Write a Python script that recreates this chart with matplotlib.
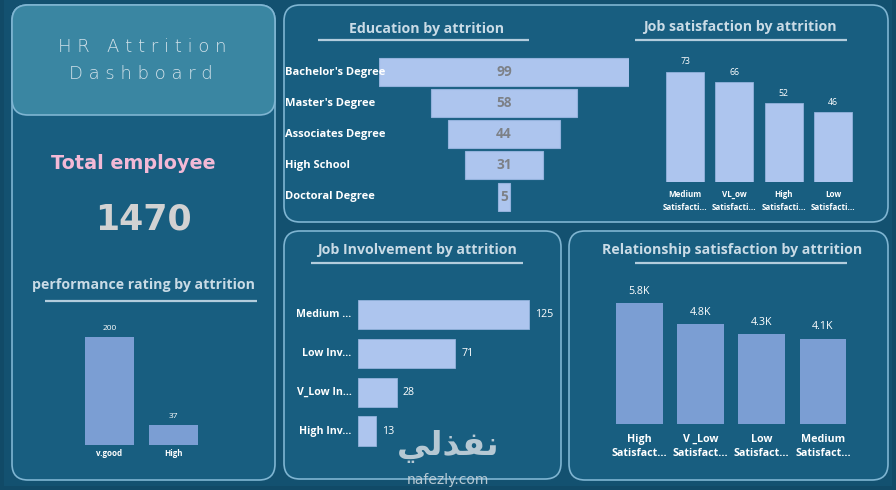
import matplotlib
matplotlib.use('Agg')
import matplotlib.pyplot as plt
from matplotlib.patches import FancyBboxPatch
from matplotlib import transforms

edu_labels = ["Bachelor's Degree", "Master's Degree", "Associates Degree", "High School", "Doctoral Degree"]
edu_values = [99, 58, 44, 31, 5]

jobsat_labels = ["Medium\nSatisfacti...", "VL_ow\nSatisfacti...", "High\nSatisfacti...", "Low\nSatisfacti..."]
jobsat_values = [73, 66, 52, 46]

perf_labels = ["v.good", "High"]
perf_values = [200, 37]

inv_labels = ["Medium ...", "Low Inv...", "V_Low In...", "High Inv..."]
inv_values = [125, 71, 28, 13]

rel_labels = ["High\nSatisfact...", "V _Low\nSatisfact...", "Low\nSatisfact...", "Medium\nSatisfact..."]
rel_values = [5.8, 4.8, 4.3, 4.1]  # thousands

total_employee = 1470

# colours
OUTER = '#114a67'
PANEL = '#185e80'
HEAD = '#3a86a2'
EDGE = '#7fb5d2'
TITLE_C = '#c9dbe6'
LIGHT_BAR = '#adc5ee'
MID_BAR = '#7b9ed3'
FONT = 'Open Sans'

W, H = 896, 490
fig = plt.figure(figsize=(W / 100, H / 100), dpi=100)
fig.patch.set_facecolor(OUTER)

# full-figure axes in pixel units for the frames and headings
bg = fig.add_axes([0, 0, 1, 1])
bg.set_xlim(0, W)
bg.set_ylim(H, 0)
bg.axis('off')


def panel(x0, y0, x1, y1, fc=PANEL, r=16):
    bg.add_patch(FancyBboxPatch((x0, y0), x1 - x0, y1 - y0,
                                boxstyle=f"round,pad=0,rounding_size={r}",
                                fc=fc, ec=EDGE, lw=1.2))


def heading(text, cx, cy, ux0, ux1, uy, size=10.2):
    bg.text(cx, cy, text, ha='center', va='center', color=TITLE_C,
            fontsize=size, fontweight='bold', family=FONT)
    bg.plot([ux0, ux1], [uy, uy], color='#b3cddd', lw=1.6, solid_capstyle='butt')


def sub(x0, y0, x1, y1):
    ax = fig.add_axes([x0 / W, 1 - y1 / H, (x1 - x0) / W, (y1 - y0) / H])
    ax.set_facecolor('none')
    ax.axis('off')
    return ax


bg.add_patch(plt.Rectangle((4, 0), W - 8, H - 4, fc='#135170', ec='none'))

panel(12, 5, 275, 480)
panel(12, 5, 275, 115, fc=HEAD)
panel(284, 5, 888, 222)
panel(284, 231, 561, 479)
panel(569, 231, 888, 480)

# left column: title and KPI
bg.text(142, 47, ' '.join('HR Attrition'), ha='center', va='center',
        color='#d3e2ea', fontsize=13, family='DejaVu Sans', fontweight='light')
bg.text(141, 74, ' '.join('Dashboard'), ha='center', va='center',
        color='#d3e2ea', fontsize=13, family='DejaVu Sans', fontweight='light')
bg.text(133, 163, 'Total employee', ha='center', va='center',
        color='#f3b9d6', fontsize=13.8, fontweight='bold', family='DejaVu Sans')
bg.text(143, 219, str(total_employee), ha='center', va='center',
        color='#d2d2d2', fontsize=25, fontweight='bold', family='DejaVu Sans')

# performance rating
heading('performance rating by attrition', 143, 285, 45, 257, 301)
ax = sub(77.3, 320.5, 205.3, 444.7)
ax.bar(range(len(perf_values)), perf_values, width=0.76, color=MID_BAR)
ax.set_xlim(-0.5, len(perf_values) - 0.5)
ax.set_ylim(0, 230)
tr = transforms.blended_transform_factory(ax.transData, bg.transData)
for i, (lab, v) in enumerate(zip(perf_labels, perf_values)):
    ax.text(i, v + 8, str(v), ha='center', va='bottom', color='white', fontsize=6, family=FONT)
    ax.text(i, 453.5, lab, transform=tr, ha='center', va='center', color='white',
            fontsize=5.8, fontweight='bold', family=FONT)

# education funnel
heading('Education by attrition', 427, 29, 318, 529, 40)
ax = sub(379, 56.45, 629, 212.1)
ax.barh(range(len(edu_values)), edu_values, left=[-v / 2 for v in edu_values],
        height=0.9, color=LIGHT_BAR, edgecolor='#93b2dc', lw=0.8)
ax.set_xlim(-49.5, 49.5)
ax.set_ylim(len(edu_values) - 0.5, -0.5)
tr = transforms.blended_transform_factory(bg.transData, ax.transData)
for i, (lab, v) in enumerate(zip(edu_labels, edu_values)):
    ax.text(0, i, str(v), ha='center', va='center', color='#7d8187',
            fontsize=9.8, fontweight='bold', family=FONT)
    ax.text(285, i, lab, transform=tr, ha='left', va='center', color='white',
            fontsize=8, fontweight='bold', family=FONT, zorder=3)

# job satisfaction
heading('Job satisfaction by attrition', 740, 27, 635, 847, 40)
ax = sub(660.3, 61.1, 857.9, 181.7)
ax.bar(range(len(jobsat_values)), jobsat_values, width=0.77, color=LIGHT_BAR,
       edgecolor='#93b2dc', lw=0.6)
ax.set_xlim(-0.5, len(jobsat_values) - 0.5)
ax.set_ylim(0, 80)
tr = transforms.blended_transform_factory(ax.transData, bg.transData)
for i, (lab, v) in enumerate(zip(jobsat_labels, jobsat_values)):
    ax.text(i, v + 3.5, str(v), ha='center', va='bottom', color='white', fontsize=6.3, family=FONT)
    ax.text(i, 201, lab, transform=tr, ha='center', va='center', color='white',
            fontsize=5.8, fontweight='bold', family=FONT, linespacing=1.5)

# job involvement
heading('Job Involvement by attrition', 417, 250, 311, 523, 263)
ax = sub(358.3, 295.3, 549.8, 450.4)
ax.barh(range(len(inv_values)), inv_values, height=0.755, color=LIGHT_BAR,
        edgecolor='#93b2dc', lw=0.6)
ax.set_xlim(0, 140)
ax.set_ylim(len(inv_values) - 0.5, -0.5)
tr = transforms.blended_transform_factory(bg.transData, ax.transData)
for i, (lab, v) in enumerate(zip(inv_labels, inv_values)):
    ax.text(v + 4.5, i, str(v), ha='left', va='center', color='white', fontsize=7.7, family=FONT)
    ax.text(351.7, i, lab, transform=tr, ha='right', va='center', color='white',
            fontsize=7.6, fontweight='bold', family=FONT)

# relationship satisfaction
heading('Relationship satisfaction by attrition', 732, 250, 635, 847, 263)
ax = sub(608.7, 288.8, 853.6, 423.7)
ax.bar(range(len(rel_values)), rel_values, width=0.765, color=MID_BAR)
ax.set_xlim(-0.5, len(rel_values) - 0.5)
ax.set_ylim(0, 6.5)
tr = transforms.blended_transform_factory(ax.transData, bg.transData)
for i, (lab, v) in enumerate(zip(rel_labels, rel_values)):
    ax.text(i, v + 0.3, f'{v}K', ha='center', va='bottom', color='white', fontsize=7.7, family=FONT)
    ax.text(i, 446.5, lab, transform=tr, ha='center', va='center', color='white',
            fontsize=7.7, fontweight='bold', family=FONT, linespacing=1.4)

# watermark
bg.text(448, 446, '\uFEF2\uFEDF\uFEAC\uFED4\uFEE7', ha='center', va='center',
        color='#c8d5dd', fontsize=24, fontweight='bold', family='DejaVu Sans', alpha=0.9)
bg.text(448, 480, 'nafezly.com', ha='center', va='center',
        color='#c8d5dd', fontsize=10, family='DejaVu Sans', alpha=0.9)

fig.savefig('out.png', dpi=100, facecolor=OUTER)
